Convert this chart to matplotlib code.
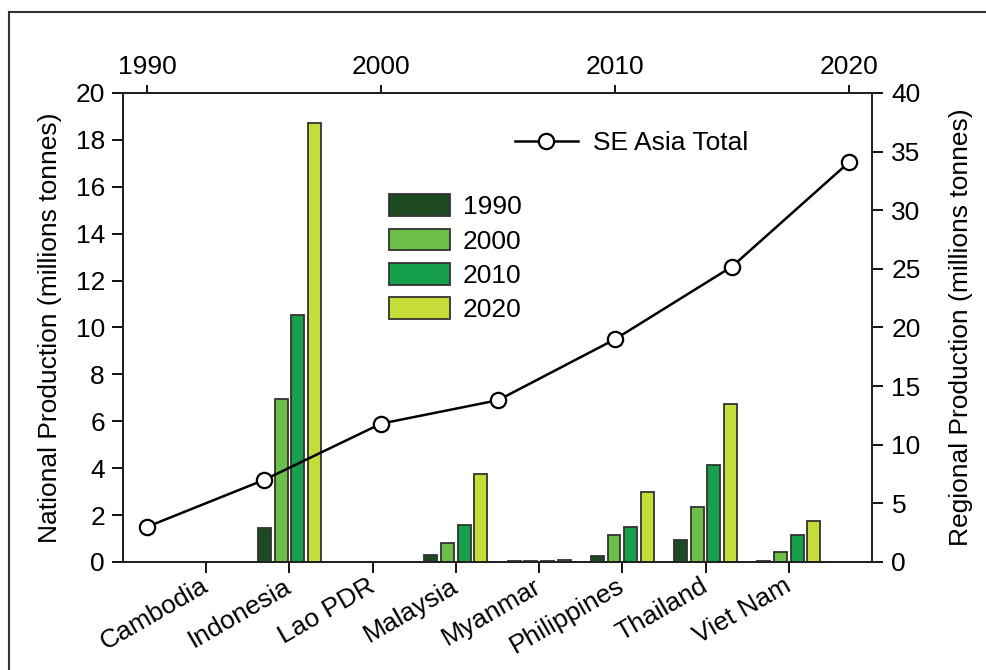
import matplotlib
matplotlib.use("Agg")
import matplotlib.pyplot as plt
from matplotlib.lines import Line2D
import numpy as np

plt.rcParams['font.family'] = ['Liberation Sans', 'DejaVu Sans']

countries = ["Cambodia", "Indonesia", "Lao PDR", "Malaysia", "Myanmar",
             "Philippines", "Thailand", "Viet Nam"]
prod_1990 = [0.0, 1.45, 0.0, 0.30, 0.03, 0.25, 0.92, 0.03]
prod_2000 = [0.0, 6.95, 0.0, 0.82, 0.03, 1.13, 2.33, 0.42]
prod_2010 = [0.0, 10.55, 0.0, 1.58, 0.05, 1.48, 4.12, 1.15]
prod_2020 = [0.0, 18.7, 0.0, 3.75, 0.10, 2.97, 6.72, 1.75]
decades = ["1990", "2000", "2010", "2020"]

total_years = [1990, 1995, 2000, 2005, 2010, 2015, 2020]
total_prod = [3.0, 7.0, 11.8, 13.8, 19.0, 25.2, 34.1]

colors = ["#1e4a22", "#6cc04a", "#17a04c", "#c6dc38"]
edge = "#333333"

fig = plt.figure(figsize=(9.87, 6.70), dpi=100)
ax = fig.add_axes([0.1246, 0.1612, 0.7589, 0.7000])

series = [prod_1990, prod_2000, prod_2010, prod_2020]
x = np.arange(len(countries))
width = 0.155
step = 0.2
for i, (vals, c, lab) in enumerate(zip(series, colors, decades)):
    ax.bar(x + (i - 1.5) * step, vals, width, color=c, edgecolor=edge,
           linewidth=1.3, label=lab)

fs = 19
ax.set_xlim(-1, 8)
ax.set_ylim(0, 20)
ax.set_yticks(np.arange(0, 21, 2))
ax.set_xticks(x)
ax.set_xticklabels(countries, rotation=30, ha='right', va='center',
                   rotation_mode='anchor')
ax.tick_params(axis='both', direction='out', length=8, width=1.3,
               labelsize=fs, pad=5)
ax.tick_params(axis='x', pad=8)
ax.set_ylabel("National Production (millions tonnes)", fontsize=fs, labelpad=10)
for s in ax.spines.values():
    s.set_linewidth(1.3)
    s.set_color("#222222")

ax_r = ax.twinx()
ax_r.set_ylim(0, 40)
ax_r.set_yticks(np.arange(0, 41, 5))
ax_r.tick_params(axis='y', direction='out', length=8, width=1.3,
                 labelsize=fs, pad=6)
ax_r.set_ylabel("Regional Production (millions tonnes)", fontsize=fs,
                labelpad=20)

ax_t = ax_r.twiny()
ax_t.set_xlim(1988.97, 2020.98)
ax_t.set_xticks([1990, 2000, 2010, 2020])
ax_t.tick_params(axis='x', direction='out', length=6, width=1.3,
                 labelsize=fs, pad=4)
ax_t.plot(total_years, total_prod, color="black", linewidth=1.8,
          marker='o', markersize=11, markerfacecolor='white',
          markeredgecolor='black', markeredgewidth=1.6,
          label="SE Asia Total")
for a in (ax_r, ax_t):
    for s in a.spines.values():
        s.set_linewidth(1.3)
        s.set_color("#222222")

leg1 = ax.legend(loc='upper left', bbox_to_anchor=(0.355, 0.784),
                 frameon=False, fontsize=fs, handlelength=2.3,
                 handleheight=0.9, handletextpad=0.5, labelspacing=0.35,
                 borderpad=0, borderaxespad=0)
leg2 = ax_t.legend(loc='upper left', bbox_to_anchor=(0.523, 0.918),
                   frameon=False, fontsize=fs, handlelength=2.4,
                   handletextpad=0.55, borderpad=0, borderaxespad=0)

# outer frame (left and top edges)
fig.add_artist(Line2D([9 / 987, 9 / 987], [0, 1 - 12 / 670],
                      transform=fig.transFigure, color="#333333", lw=1.5))
fig.add_artist(Line2D([9 / 987, 1], [1 - 12 / 670, 1 - 12 / 670],
                      transform=fig.transFigure, color="#333333", lw=1.5))

fig.savefig("out.png", dpi=100)
